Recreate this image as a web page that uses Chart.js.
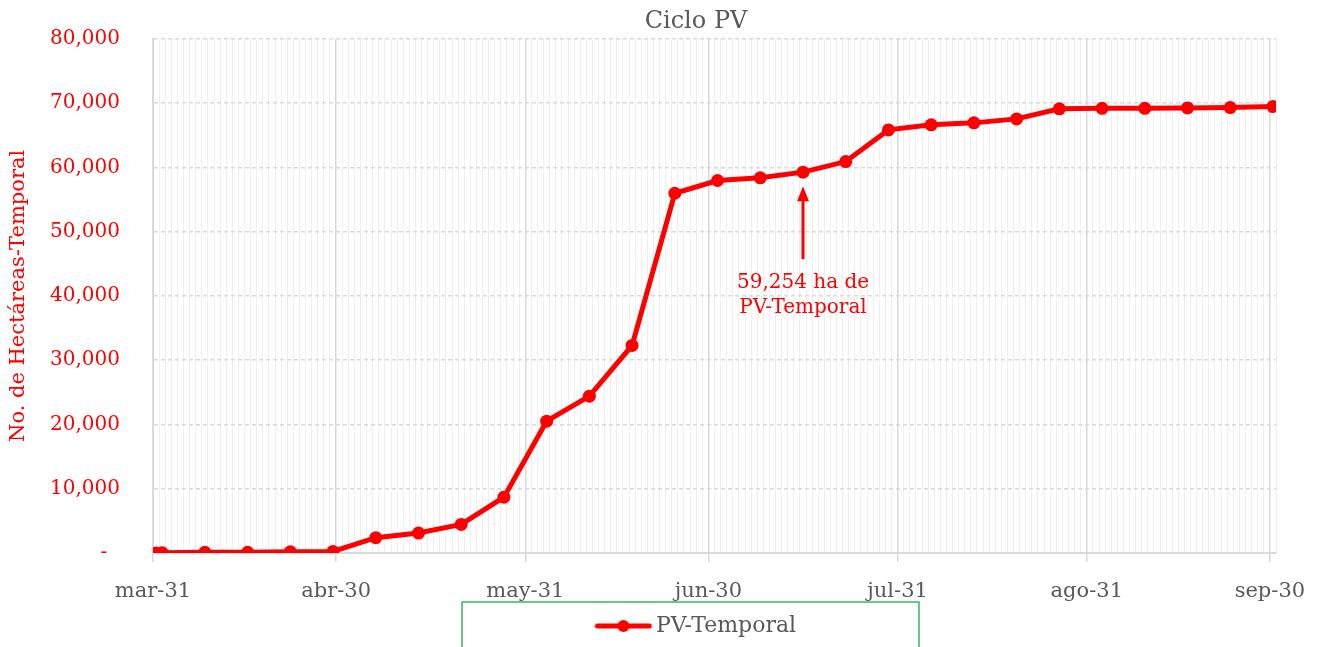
<!DOCTYPE html>
<html lang="es">
<head>
  <meta charset="UTF-8" />
  <title>Ciclo PV</title>
  <script src="https://cdn.jsdelivr.net/npm/chart.js"></script>
  <style>
    body { margin: 0; background: #fff; }
    #wrap { width: 1323px; height: 647px; position: relative; }
  </style>
</head>
<body>
  <div id="wrap"><canvas id="pvChart"></canvas></div>

  <script>
    // fechas de corte (semanales) y hectáreas acumuladas
    const fechas = [
      '2021-03-31', '2021-04-01', '2021-04-08', '2021-04-15', '2021-04-22', '2021-04-29',
      '2021-05-06', '2021-05-13', '2021-05-20', '2021-05-27', '2021-06-03', '2021-06-10',
      '2021-06-17', '2021-06-24', '2021-07-01', '2021-07-08', '2021-07-15', '2021-07-22',
      '2021-07-29', '2021-08-05', '2021-08-12', '2021-08-19', '2021-08-26', '2021-09-02',
      '2021-09-09', '2021-09-16', '2021-09-23', '2021-09-30'
    ];
    const hectareas = [
      0, 40, 100, 120, 180, 250,
      2380, 3100, 4450, 8690, 20510, 24400,
      32290, 55970, 57950, 58370, 59254, 60900,
      65830, 66610, 66920, 67540, 69100, 69190,
      69190, 69250, 69300, 69450
    ];
    const tickFechas = ['2021-03-31', '2021-04-30', '2021-05-31', '2021-06-30', '2021-07-31', '2021-08-31', '2021-09-30'];
    const tickTextos = ['mar-31', 'abr-30', 'may-31', 'jun-30', 'jul-31', 'ago-31', 'sep-30'];
    const notaIndice = 16;
    const notaTexto = ['59,254 ha de', 'PV-Temporal'];

    const FONT = "'DejaVu Serif', serif";
    const DAY = 86400000;
    const t0 = Date.parse(fechas[0]);
    const toDay = s => Math.round((Date.parse(s) - t0) / DAY);
    const lastDay = toDay(tickFechas[tickFechas.length - 1]) + 1;

    const majorMap = {};
    tickFechas.forEach((f, i) => { majorMap[toDay(f)] = tickTextos[i]; });
    const isMajor = ctx => !!(ctx.tick && majorMap[ctx.tick.value]);

    // legend marker: line with a dot
    const marker = document.createElement('canvas');
    marker.width = 58; marker.height = 14;
    (function () {
      const c = marker.getContext('2d');
      c.strokeStyle = '#ff0000'; c.lineWidth = 5; c.lineCap = 'round';
      c.beginPath(); c.moveTo(3, 7); c.lineTo(55, 7); c.stroke();
      c.fillStyle = '#ff0000';
      c.beginPath(); c.arc(29, 7, 6, 0, Math.PI * 2); c.fill();
    })();

    // Excel centres title and legend a bit right of the canvas middle
    const shiftBoxes = {
      id: 'shiftBoxes',
      afterLayout(chart) {
        if (chart.titleBlock) { chart.titleBlock.left += 58; chart.titleBlock.right += 58; }
        if (chart.legend) { chart.legend.left += 61; chart.legend.right += 61; }
      }
    };

    const notaPlugin = {
      id: 'nota',
      afterDatasetsDraw(chart) {
        const pt = chart.getDatasetMeta(0).data[notaIndice];
        const ctx = chart.ctx;
        const x = pt.x, y = pt.y;
        ctx.save();
        ctx.fillStyle = '#ff0000';
        ctx.strokeStyle = '#ff0000';
        ctx.lineWidth = 3;
        ctx.beginPath(); ctx.moveTo(x, y + 87); ctx.lineTo(x, y + 26); ctx.stroke();
        ctx.beginPath();
        ctx.moveTo(x, y + 14); ctx.lineTo(x - 6, y + 29); ctx.lineTo(x + 6, y + 29);
        ctx.closePath(); ctx.fill();
        ctx.font = '20px ' + FONT;
        ctx.textAlign = 'center';
        ctx.textBaseline = 'middle';
        ctx.fillText(notaTexto[0], x, y + 111);
        ctx.fillText(notaTexto[1], x, y + 136);
        ctx.restore();
      }
    };

    const legendBox = {
      id: 'legendBox',
      afterDraw(chart) {
        const lg = chart.legend;
        const ctx = chart.ctx;
        ctx.save();
        ctx.strokeStyle = '#33b864';
        ctx.lineWidth = 1.5;
        ctx.strokeRect(462, lg.top - 1, 457, 60);
        ctx.restore();
      }
    };

    new Chart(document.getElementById('pvChart'), {
      type: 'line',
      data: {
        datasets: [{
          label: 'PV-Temporal',
          data: fechas.map((f, i) => ({ x: toDay(f) + 0.5, y: hectareas[i] })),
          borderColor: '#ff0000',
          backgroundColor: '#ff0000',
          borderWidth: 5,
          pointRadius: 6.5,
          pointHoverRadius: 6.5,
          pointBackgroundColor: '#ff0000',
          pointBorderWidth: 0,
          tension: 0
        }]
      },
      options: {
        responsive: true,
        maintainAspectRatio: false,
        animation: false,
        layout: { padding: { left: 0, right: 47, top: 0, bottom: 0 } },
        plugins: {
          title: {
            display: true,
            text: 'Ciclo PV',
            color: '#595959',
            font: { family: FONT, size: 24, weight: 'normal' },
            padding: { top: 7, bottom: 3 }
          },
          legend: {
            position: 'bottom',
            labels: {
              usePointStyle: true,
              pointStyle: marker,
              pointStyleWidth: 43,
              color: '#595959',
              font: { family: FONT, size: 22 },
              padding: 12
            }
          },
          tooltip: { enabled: false }
        },
        scales: {
          x: {
            type: 'linear',
            min: 0,
            max: lastDay,
            afterBuildTicks: scale => {
              const t = [];
              for (let d = 0; d <= lastDay; d++) t.push({ value: d });
              scale.ticks = t;
            },
            afterFit: scale => { scale.height = 50; },
            ticks: {
              autoSkip: false,
              maxRotation: 0,
              color: '#595959',
              font: { family: FONT, size: 21 },
              padding: 17,
              callback: v => majorMap[v] || ''
            },
            grid: {
              color: ctx => (isMajor(ctx) ? '#d9d9d9' : '#f0f0f0'),
              tickColor: ctx => (isMajor(ctx) ? '#d9d9d9' : 'rgba(0,0,0,0)'),
              tickLength: 9,
              lineWidth: ctx => (isMajor(ctx) ? 1.5 : 1)
            },
            border: { color: '#d9d9d9', width: 2 }
          },
          y: {
            min: 0,
            max: 80000,
            ticks: {
              stepSize: 10000,
              color: '#ff0000',
              font: { family: FONT, size: 20 },
              padding: 0,
              callback: v => (v === 0 ? '-  ' : v.toLocaleString('en-US'))
            },
            // transparent tick marks keep the labels away from the axis
            grid: { color: '#d9d9d9', tickColor: 'rgba(0,0,0,0)', tickLength: 33, lineWidth: 1.5 },
            border: { color: '#d9d9d9', width: 2, dash: [4, 3] },
            title: {
              display: true,
              text: 'No. de Hectáreas-Temporal',
              color: '#ff0000',
              font: { family: FONT, size: 21 },
              padding: { top: 6, bottom: 0 }
            },
            afterFit: scale => { scale.width = 153; }
          }
        }
      },
      plugins: [shiftBoxes, notaPlugin, legendBox]
    });
  </script>
</body>
</html>
